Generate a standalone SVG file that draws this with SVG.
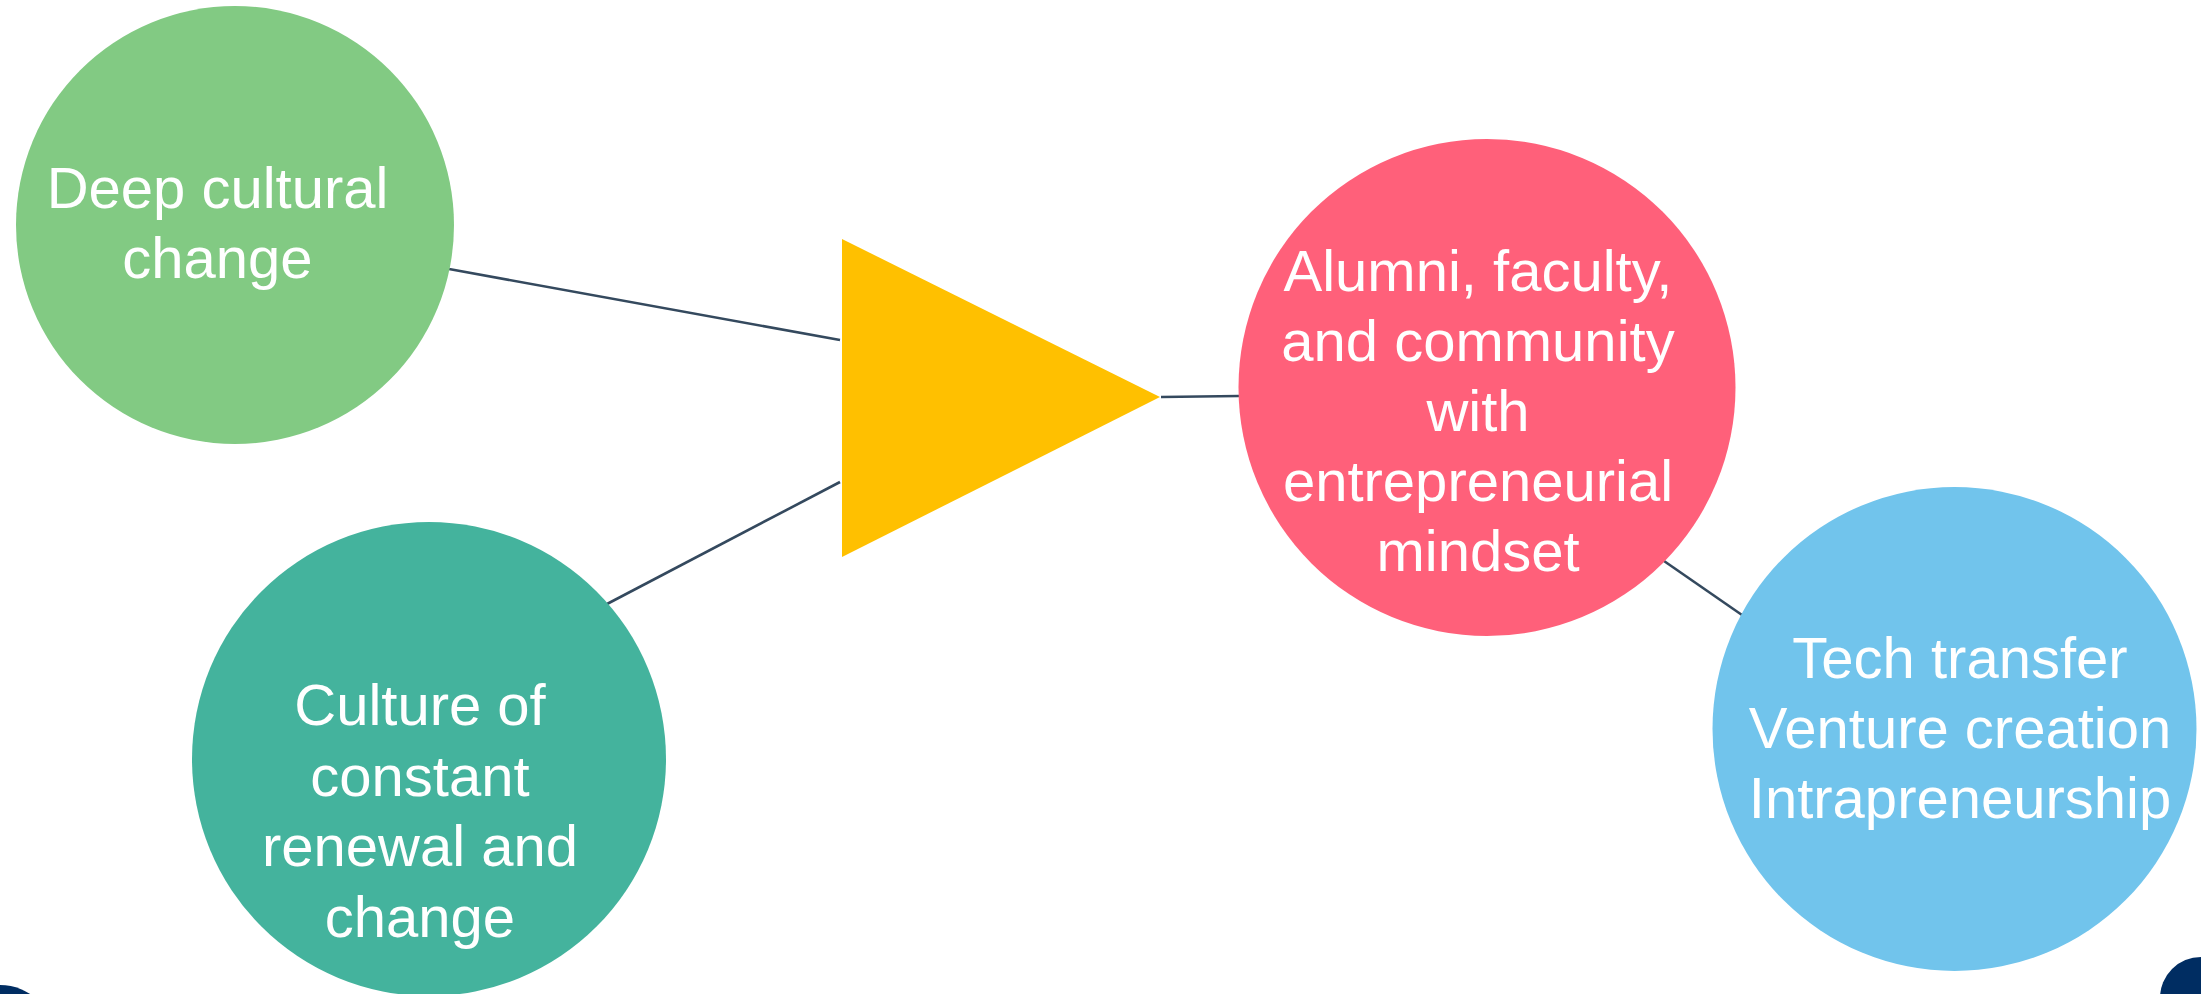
<svg xmlns="http://www.w3.org/2000/svg" width="2201" height="994" viewBox="0 0 2201 994">
<style>
.lbl{font-family:"Liberation Sans",Arial,sans-serif;font-size:58px;fill:#ffffff;text-anchor:middle}
.conn{stroke:#34495E;stroke-width:2.6;fill:none}
</style>
<rect width="2201" height="994" fill="#ffffff"/>
<g id="connectors">
<line class="conn" x1="449" y1="269" x2="840" y2="340"/>
<line class="conn" x1="607" y1="604" x2="840" y2="482"/>
<line class="conn" x1="1161" y1="397" x2="1239" y2="396"/>
<line class="conn" x1="1664" y1="561" x2="1742" y2="615"/>
</g>
<g id="deep-cultural-change">
<circle cx="235" cy="225" r="219" fill="#82CA83"/>
<text class="lbl" x="217.5" y="208">Deep cultural</text>
<text class="lbl" x="217.5" y="278">change</text>
</g>
<g id="culture-renewal">
<circle cx="429" cy="759" r="237" fill="#44B39D"/>
<text class="lbl" x="420" y="725">Culture of</text>
<text class="lbl" x="420" y="795.5">constant</text>
<text class="lbl" x="420" y="866">renewal and</text>
<text class="lbl" x="420" y="937">change</text>
</g>
<g id="triangle">
<polygon points="842,239 842,557 1160,397" fill="#FFC000"/>
</g>
<g id="alumni">
<circle cx="1487" cy="387.5" r="248.5" fill="#FF607A"/>
<text class="lbl" x="1478" y="290.5">Alumni, faculty,</text>
<text class="lbl" x="1478" y="360.5">and community</text>
<text class="lbl" x="1478" y="430.5">with</text>
<text class="lbl" x="1478" y="500.5">entrepreneurial</text>
<text class="lbl" x="1478" y="570.5">mindset</text>
</g>
<g id="outcomes">
<circle cx="1954.5" cy="729" r="242" fill="#71C4EC"/>
<text class="lbl" x="1960" y="678">Tech transfer</text>
<text class="lbl" x="1960" y="748">Venture creation</text>
<text class="lbl" x="1960" y="818">Intrapreneurship</text>
</g>
<g id="logo-fragments">
<circle cx="0" cy="1040" r="55" fill="#002D62"/>
<circle cx="2201" cy="998" r="41" fill="#002D62"/>
</g>
</svg>
